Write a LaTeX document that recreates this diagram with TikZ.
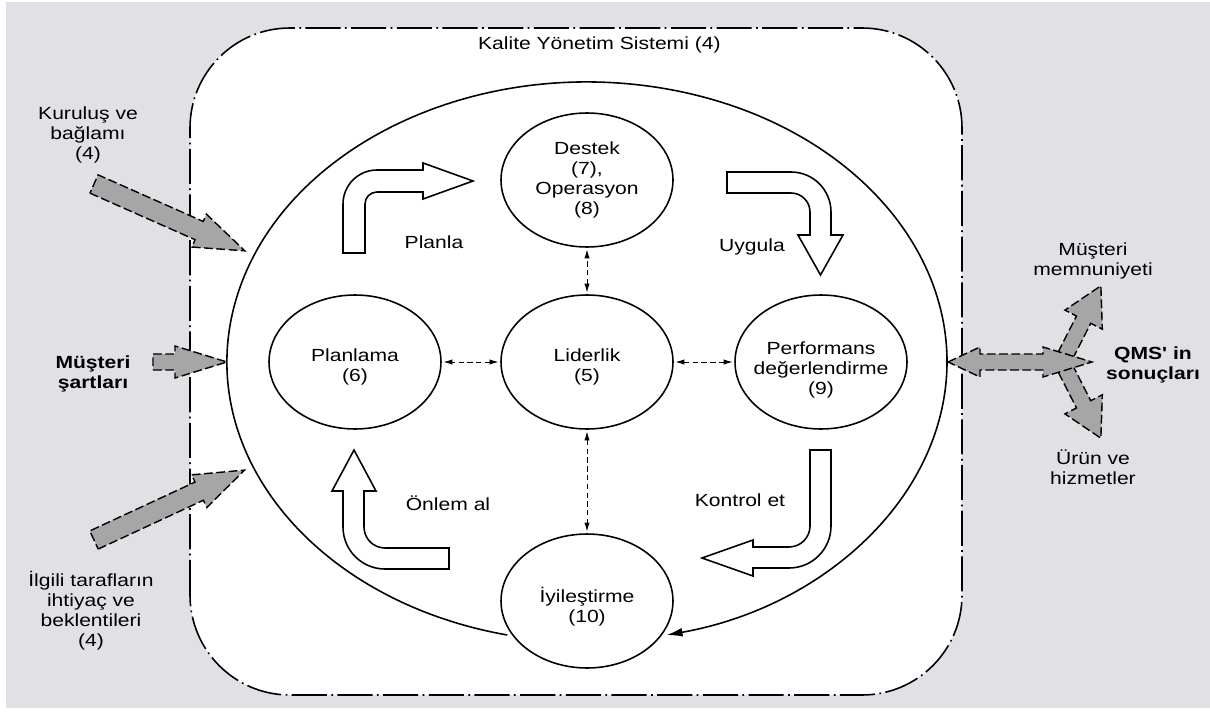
\documentclass[tikz,border=0pt]{standalone}
\usepackage{fontspec}
\setmainfont{Liberation Sans}[FakeStretch=1.2]
\newfontfamily\plainfont{Liberation Sans}[FakeStretch=1.2]
\usetikzlibrary{arrows.meta,shapes.geometric}
\definecolor{bggray}{RGB}{225,225,229}
\definecolor{arrgray}{RGB}{166,166,166}
\begin{document}
\begin{tikzpicture}[x=0.02cm,y=0.02cm,
  font=\fontsize{10}{11.4}\selectfont,
  proc/.style={ellipse, draw, line width=0.9pt, minimum width=3.44cm, minimum height=2.68cm, inner sep=0pt},
  link/.style={dashed, dash pattern=on 3pt off 2pt, line width=0.5pt, {Latex[length=5pt,width=3pt]}-{Latex[length=5pt,width=3pt]}, shorten <=1pt, shorten >=1pt},
  blockarrow/.style={draw, fill=white, line width=0.9pt, line join=miter},
  grayarrow/.style={draw, fill=arrgray, dash pattern=on 5pt off 2pt, line width=0.8pt, line join=miter},
  lbl/.style={align=center, inner sep=0pt},
  frame/.style={draw, fill=white, line width=0.9pt, dash pattern=on 20pt off 2.5pt on 1pt off 2.5pt, rounded corners=2cm}
]
\useasboundingbox (0,0) rectangle (1210,718);
\fill[bggray] (6,10) rectangle (1210,716);
% system frame
\draw[frame] (190,23) rectangle (962,690);
\node[lbl, anchor=east] (title) at (721,673) {Kalite Yönetim Sistemi (4)};
% big cycle
\draw[line width=0.9pt, -{Latex[length=9pt,width=5pt]}] (507.2,83) arc[start angle=257.2, end angle=-77.2, x radius=360, y radius=280];
% process ellipses
\node[proc] (des) at (587,538) {};
\node[proc] (lid) at (587,356) {};
\node[proc] (pla) at (355,356) {};
\node[proc] (perf) at (821,356) {};
\node[proc] (iyi) at (587,117) {};
\node[lbl] at (587,538) {Destek\\(7),\\Operasyon\\(8)};
\node[lbl] at (587,351) {Liderlik\\(5)};
\node[lbl] at (355,351) {Planlama\\(6)};
\node[lbl] at (821,348) {Performans\\değerlendirme\\(9)};
\node[lbl] at (587,111) {İyileştirme\\(10)};
% dashed links
\draw[link] (lid) -- (des);
\draw[link] (lid) -- (iyi);
\draw[link] (lid) -- (pla);
\draw[link] (lid) -- (perf);
% white block arrows
\draw[blockarrow] (343,465) -- (343,514) arc (180:90:34) -- (423,548) -- (423,555) -- (473,537) -- (423,519) -- (423,526) -- (377,526) arc (90:180:12) -- (365,465) -- cycle;
\draw[blockarrow] (727,546) -- (791,546) arc (90:0:40) -- (831,483) -- (843,483) -- (820.5,443) -- (798,483) -- (810,483) -- (810,506) arc (0:90:19) -- (727,525) -- cycle;
\draw[blockarrow] (810,268) -- (831,268) -- (831,192) arc (0:-90:42) -- (753,150) -- (753,142) -- (702,160) -- (753,178) -- (753,171) -- (789,171) arc (-90:0:21) -- cycle;
\draw[blockarrow] (449,149) -- (385,149) arc (270:180:42) -- (343,227) -- (332,227) -- (354,268) -- (376,227) -- (364,227) -- (364,191) arc (180:270:21) -- (449,170) -- cycle;
\node[lbl] (planla) at (434,476) {Planla};
\node[lbl] (uygula) at (752,471) {Uygula};
\node[lbl] (onlem) at (448,215) {Önlem al};
\node[lbl] (kontrol) at (740,218) {Kontrol et};
% gray input arrows
\begin{scope}[shift={(94,534)}, rotate=-23.9]
\draw[grayarrow] (0,-10) -- (115,-10) -- (115,-18) -- (165,0) -- (115,18) -- (115,10) -- (0,10) -- cycle;
\end{scope}
\begin{scope}[shift={(94,178)}, rotate=24.9]
\draw[grayarrow] (0,-10) -- (116,-10) -- (116,-18) -- (166,0) -- (116,18) -- (116,10) -- (0,10) -- cycle;
\end{scope}
\draw[grayarrow] (153,348) -- (175,348) -- (175,340) -- (227,356) -- (175,372) -- (175,364) -- (153,364) -- cycle;
% output arrows
\begin{scope}[shift={(1060,352)}, rotate=63]
\draw[grayarrow] (0,-8) -- (52,-8) -- (52,-21) -- (90,0) -- (52,21) -- (52,8) -- (0,8) -- cycle;
\end{scope}
\begin{scope}[shift={(1060,360)}, rotate=-63]
\draw[grayarrow] (0,-8) -- (52,-8) -- (52,-21) -- (90,0) -- (52,21) -- (52,8) -- (0,8) -- cycle;
\end{scope}
\draw[grayarrow] (948,356) -- (980,371) -- (980,364) -- (1043,364) -- (1043,371) -- (1092,356) -- (1043,341) -- (1043,348) -- (980,348) -- (980,341) -- cycle;
% outside labels
\node[lbl] (kur) at (88,583) {Kuruluş ve\\bağlamı\\(4)};
\node[lbl, font=\fontsize{10}{11.4}\selectfont\bfseries] (mus) at (93,344) {Müşteri\\şartları};
\node[lbl] (ilg) at (91,107) {İlgili tarafların\\ihtiyaç ve\\beklentileri\\(4)};
\node[lbl] (mem) at (1093,457) {Müşteri\\memnuniyeti};
\node[lbl, font=\plainfont\fontsize{10}{11.4}\selectfont\bfseries] (qms) at (1153,353) {QMS' in\\sonuçları};
\node[lbl] (urun) at (1093,251) {Ürün ve\\hizmetler};
\end{tikzpicture}
\end{document}
